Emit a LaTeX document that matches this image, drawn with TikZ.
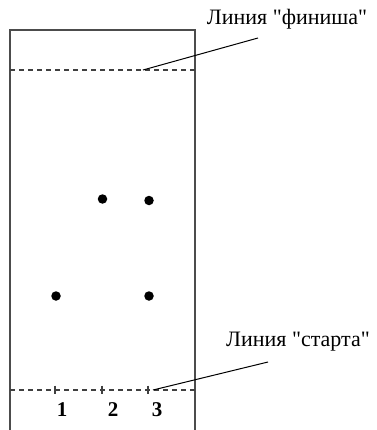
\documentclass[tikz,border=0pt]{standalone}
\usepackage{fontspec}
\setmainfont{Liberation Serif}[Ligatures=TeXOff]
\begin{document}
\begin{tikzpicture}[x=1pt,y=-1pt,
  frame/.style={draw=black!70, line width=1.6pt},
  dashline/.style={draw=black!75, line width=1.1pt, dash pattern=on 4.5pt off 4.5pt},
  tickline/.style={draw=black!75, line width=1.2pt},
  leader/.style={draw=black, line width=1pt},
  dotmark/.style={circle, fill=black, inner sep=0pt, minimum size=9.5pt},
  lbl/.style={font=\fontsize{22}{26}\selectfont, inner sep=0pt},
  num/.style={font=\fontsize{21}{25}\selectfont\bfseries, inner sep=0pt}]
\useasboundingbox (0,0) rectangle (376,430);
% frame (open at bottom)
\coordinate (bl) at (10,431);
\coordinate (tl) at (10,30);
\coordinate (tr) at (195,30);
\coordinate (br) at (195,431);
\draw[frame] (bl) -- (tl) -- (tr) -- (br);
% finish line
\coordinate (f1) at (10,70);
\coordinate (f2) at (195,70);
\draw[dashline] (f1) -- (f2);
% start line
\coordinate (s1) at (10,390);
\coordinate (s2) at (195,390);
\draw[dashline] (s1) -- (s2);
% ticks
\foreach \x/\n in {55/1,102/2,148/3}{
  \coordinate (t\n a) at (\x,385.5);
  \coordinate (t\n b) at (\x,394);
  \draw[tickline] (t\n a) -- (t\n b);
}
\node[num] (n1) at (62,410) {1};
\node[num] (n2) at (113,410) {2};
\node[num] (n3) at (157,410) {3};
% dots
\node[dotmark] (d1) at (102.5,199) {};
\node[dotmark] (d2) at (149,200.5) {};
\node[dotmark] (d3) at (56,296) {};
\node[dotmark] (d4) at (149,296) {};
% labels
\node[lbl] (lf) at (287,19) {Линия "финиша"};
\node[lbl] (ls) at (298,342) {Линия "старта"};
\coordinate (lfa) at (143,70);
\coordinate (lfb) at (258,38);
\draw[leader] (lfa) -- (lfb);
\coordinate (lsa) at (153,390);
\coordinate (lsb) at (268,362);
\draw[leader] (lsa) -- (lsb);
\end{tikzpicture}
\end{document}
